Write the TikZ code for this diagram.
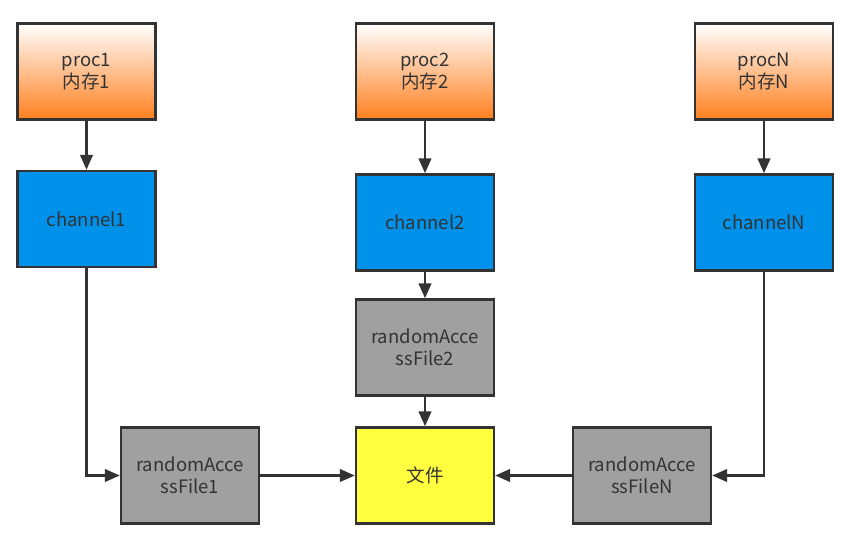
\documentclass[tikz,border=0pt]{standalone}
\usepackage{fontspec}
\setmainfont{Noto Sans CJK SC}
\usetikzlibrary{arrows.meta}

\definecolor{linegray}{HTML}{333333}
\definecolor{procorange}{HTML}{FF7F1E}
\definecolor{chanblue}{HTML}{0091EA}
\definecolor{rafgray}{HTML}{A0A0A0}
\definecolor{fileyellow}{HTML}{FFFF40}

\tikzset{
    box/.style={draw=linegray, line width=2.4pt, minimum width=138pt, minimum height=96pt,
        inner sep=0pt, align=center, text=linegray, font=\fontsize{18.5}{21.5}\selectfont},
    procbox/.style={box, top color=white, bottom color=procorange},
    chanbox/.style={box, fill=chanblue},
    rafbox/.style={box, fill=rafgray},
    filebox/.style={box, fill=fileyellow},
    link/.style={draw=linegray, line width=2.6pt, -{Triangle[length=15pt,width=12.5pt]}},
}

\begin{document}
\begin{tikzpicture}[x=1pt, y=-1pt]
    \useasboundingbox (0,0) rectangle (849,537);

    % proc nodes
    \node[procbox] (proc1) at (86.5,71.5) {proc1\\内存1};
    \node[procbox] (proc2) at (425,71.5) {proc2\\内存2};
    \node[procbox] (procN) at (764,71.5) {procN\\内存N};

    % channels
    \node[chanbox] (chan1) at (86.5,219) {channel1};
    \node[chanbox] (chan2) at (425,222.5) {channel2};
    \node[chanbox] (chanN) at (764,222.5) {channelN};

    % randomAccessFile
    \node[rafbox] (raf2) at (425,347.5) {randomAcce\\ssFile2};
    \node[rafbox] (raf1) at (190,475.5) {randomAcce\\ssFile1};
    \node[rafbox] (rafN) at (642,475.5) {randomAcce\\ssFileN};

    % 文件
    \node[filebox] (file) at (425,475.5) {文件};

    \draw[link] (proc1) -- (chan1);
    \draw[link] (proc2) -- (chan2);
    \draw[link] (procN) -- (chanN);

    \draw[link] (chan2) -- (raf2);
    \draw[link] (raf2) -- (file);

    \draw[link] (chan1.south) |- (raf1.west);
    \draw[link] (chanN.south) |- (rafN.east);

    \draw[link] (raf1) -- (file);
    \draw[link] (rafN) -- (file);
\end{tikzpicture}
\end{document}
